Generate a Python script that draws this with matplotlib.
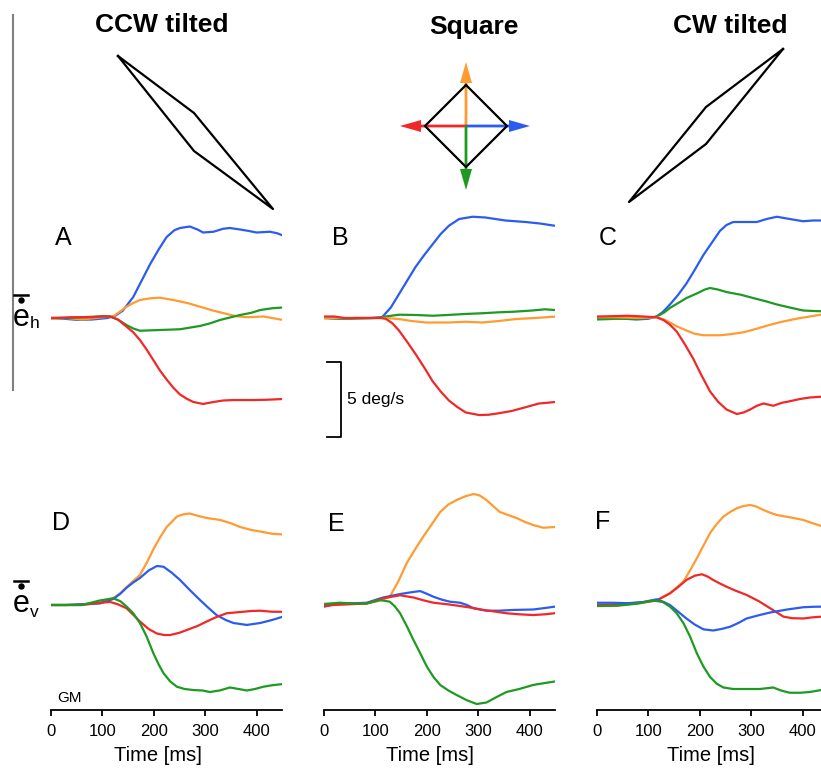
import matplotlib
matplotlib.use("Agg")
from matplotlib import pyplot as plt

plt.rcParams['font.family'] = ['Liberation Sans', 'DejaVu Sans']

# ---- data: (time [ms], eye velocity [deg/s]) ----
# row 1 = horizontal component, row 2 = vertical component
A_blue = [(0, 0.0), (25, -0.05), (50, -0.12), (80, -0.1), (110, 0.0), (125, 0.15), (140, 0.5), (160, 1.4),
          (175, 2.4), (193, 3.6), (210, 4.6), (225, 5.4), (240, 5.85), (251, 6.0), (270, 6.1), (285, 5.9),
          (296, 5.7), (316, 5.75), (335, 5.95), (348, 6.0), (368, 5.9), (385, 5.8), (400, 5.7), (426, 5.75),
          (440, 5.65), (451, 5.5)]
A_orange = [(0, -0.05), (30, 0.0), (60, -0.1), (100, 0.05), (121, 0.1), (135, 0.45), (147, 0.75), (160, 1.0),
            (173, 1.2), (195, 1.32), (212, 1.35), (238, 1.2), (265, 1.0), (290, 0.75), (315, 0.5), (342, 0.27),
            (360, 0.12), (381, 0.05), (400, 0.08), (413, 0.1), (430, 0.0), (451, -0.13)]
A_green = [(0, 0.0), (30, 0.0), (60, 0.05), (90, 0.1), (115, 0.1), (130, -0.1), (147, -0.47), (160, -0.7),
           (173, -0.85), (212, -0.8), (251, -0.75), (290, -0.53), (310, -0.35), (329, -0.13), (350, 0.05),
           (368, 0.2), (390, 0.35), (407, 0.53), (430, 0.65), (451, 0.7)]
A_red = [(0, 0.0), (40, 0.05), (80, 0.05), (100, 0.12), (115, 0.1), (130, -0.1), (147, -0.58), (160, -0.95),
         (173, -1.47), (186, -2.1), (199, -2.8), (212, -3.5), (225, -4.1), (238, -4.65), (251, -5.1), (265, -5.4),
         (277, -5.6), (296, -5.73), (316, -5.6), (335, -5.5), (355, -5.47), (394, -5.47), (420, -5.45), (451, -5.4)]

B_blue = [(0, 0.0), (30, -0.05), (60, 0.0), (90, 0.0), (113, 0.05), (130, 0.7), (146, 1.6), (162, 2.5),
          (178, 3.4), (195, 4.2), (211, 4.9), (227, 5.6), (243, 6.15), (263, 6.6), (289, 6.75), (314, 6.7),
          (353, 6.5), (392, 6.4), (420, 6.3), (449, 6.15)]
B_green = [(0, 0.0), (50, -0.05), (100, 0.0), (120, 0.1), (146, 0.22), (180, 0.2), (211, 0.15), (240, 0.2),
           (276, 0.27), (310, 0.32), (340, 0.38), (370, 0.42), (405, 0.5), (430, 0.58), (449, 0.53)]
B_orange = [(0, 0.0), (50, 0.0), (100, 0.0), (120, 0.0), (146, -0.07), (170, -0.2), (198, -0.3), (243, -0.3),
            (275, -0.25), (308, -0.3), (340, -0.2), (373, -0.07), (410, 0.0), (449, 0.09)]
B_red = [(0, 0.1), (20, 0.1), (40, 0.0), (80, 0.0), (110, 0.0), (120, -0.05), (133, -0.35), (146, -0.84),
         (162, -1.6), (178, -2.4), (195, -3.3), (211, -4.2), (227, -4.9), (243, -5.5), (260, -5.95), (276, -6.3),
         (302, -6.47), (320, -6.45), (340, -6.35), (365, -6.2), (392, -5.95), (418, -5.7), (435, -5.65), (449, -5.6)]

C_blue = [(0, 0.0), (30, 0.0), (77, -0.1), (100, -0.05), (116, 0.1), (128, 0.4), (142, 0.9), (158, 1.55),
          (174, 2.3), (190, 3.2), (207, 4.2), (223, 5.0), (239, 5.8), (252, 6.2), (265, 6.4), (290, 6.4),
          (311, 6.4), (330, 6.6), (350, 6.75), (375, 6.6), (401, 6.45), (420, 6.5), (436, 6.5)]
C_green = [(0, -0.1), (40, -0.05), (80, -0.05), (100, 0.0), (116, 0.1), (130, 0.35), (142, 0.67), (158, 1.0),
           (174, 1.33), (195, 1.65), (210, 1.9), (220, 2.0), (235, 1.9), (252, 1.73), (280, 1.55), (304, 1.33),
           (330, 1.1), (350, 0.9), (375, 0.7), (401, 0.5), (420, 0.47), (436, 0.45)]
C_orange = [(0, 0.05), (40, 0.05), (80, 0.0), (116, 0.05), (130, -0.1), (142, -0.3), (155, -0.55), (175, -0.85),
            (190, -1.05), (207, -1.15), (239, -1.15), (260, -1.08), (285, -0.95), (310, -0.72), (337, -0.45),
            (360, -0.25), (388, -0.05), (410, 0.08), (436, 0.22)]
C_red = [(0, 0.1), (30, 0.12), (60, 0.15), (90, 0.1), (116, 0.05), (130, -0.15), (142, -0.45), (155, -0.9),
         (170, -1.7), (187, -2.7), (203, -3.8), (220, -4.9), (236, -5.6), (252, -6.1), (272, -6.4), (285, -6.3),
         (298, -6.1), (311, -5.85), (324, -5.7), (343, -5.85), (360, -5.65), (375, -5.55), (395, -5.4),
         (414, -5.3), (436, -5.25)]

D_orange = [(0, 0.0), (30, 0.0), (60, 0.05), (95, 0.15), (121, 0.45), (135, 0.8), (147, 1.2), (160, 1.6),
            (173, 2.0), (186, 2.8), (199, 3.7), (212, 4.5), (225, 5.2), (245, 5.9), (258, 6.05), (270, 6.1),
            (285, 5.95), (303, 5.8), (329, 5.67), (350, 5.45), (368, 5.2), (390, 5.0), (407, 4.9), (430, 4.75),
            (451, 4.7)]
D_blue = [(0, 0.0), (30, 0.0), (60, 0.05), (95, 0.1), (121, 0.4), (135, 0.75), (147, 1.15), (160, 1.5),
          (173, 1.8), (190, 2.3), (206, 2.6), (219, 2.55), (235, 2.15), (251, 1.67), (270, 1.0), (290, 0.33),
          (305, -0.15), (322, -0.67), (340, -1.0), (355, -1.2), (381, -1.33), (407, -1.2), (430, -1.0), (451, -0.78)]
D_red = [(0, 0.0), (30, 0.0), (60, 0.0), (95, 0.15), (115, 0.2), (130, 0.05), (147, -0.22), (160, -0.65),
         (173, -1.1), (190, -1.6), (206, -1.9), (220, -2.0), (232, -2.0), (250, -1.85), (264, -1.67), (285, -1.4),
         (303, -1.1), (322, -0.8), (342, -0.55), (374, -0.45), (390, -0.4), (407, -0.38), (430, -0.45), (451, -0.45)]
D_green = [(0, 0.0), (30, 0.0), (60, 0.0), (95, 0.3), (121, 0.45), (135, 0.25), (147, -0.1), (160, -0.55),
           (173, -1.2), (186, -2.1), (199, -3.2), (210, -4.0), (219, -4.55), (232, -5.1), (245, -5.45), (260, -5.6),
           (277, -5.67), (295, -5.7), (309, -5.8), (328, -5.7), (348, -5.5), (365, -5.6), (381, -5.7), (397, -5.6),
           (413, -5.45), (430, -5.35), (451, -5.27)]

E_orange = [(0, -0.05), (18, 0.07), (50, 0.1), (83, 0.1), (110, 0.3), (128, 0.55), (145, 1.6), (161, 2.8),
            (177, 3.7), (193, 4.55), (210, 5.4), (226, 6.2), (242, 6.7), (258, 7.0), (275, 7.25), (291, 7.4),
            (303, 7.3), (316, 7.0), (329, 6.6), (342, 6.2), (358, 6.0), (375, 5.8), (390, 5.55), (407, 5.33),
            (427, 5.15), (449, 5.2)]
E_blue = [(0, -0.1), (18, 0.07), (51, 0.1), (83, 0.15), (115, 0.5), (148, 0.73), (170, 0.85), (187, 0.93),
          (200, 0.75), (213, 0.55), (230, 0.35), (245, 0.22), (265, 0.15), (278, 0.0), (291, -0.22), (316, -0.38),
          (340, -0.38), (368, -0.33), (407, -0.3), (430, -0.2), (449, -0.11)]
E_red = [(0, -0.1), (18, 0.0), (51, 0.05), (83, 0.1), (115, 0.45), (148, 0.65), (174, 0.5), (195, 0.3),
         (213, 0.15), (240, 0.05), (265, -0.07), (290, -0.2), (310, -0.33), (335, -0.45), (355, -0.55),
         (380, -0.62), (407, -0.67), (430, -0.62), (449, -0.55)]
E_green = [(0, 0.07), (31, 0.15), (60, 0.1), (83, 0.1), (109, 0.33), (128, 0.22), (138, -0.1), (148, -0.55),
           (161, -1.4), (174, -2.33), (187, -3.2), (200, -4.1), (213, -4.8), (226, -5.33), (242, -5.7), (258, -6.0),
           (278, -6.35), (297, -6.6), (316, -6.5), (335, -6.15), (355, -5.8), (380, -5.6), (407, -5.33),
           (430, -5.2), (449, -5.1)]

F_orange = [(0, -0.05), (45, 0.0), (80, 0.1), (116, 0.3), (142, 0.78), (168, 1.55), (181, 2.3), (194, 3.1),
            (207, 3.95), (220, 4.8), (233, 5.4), (246, 5.9), (259, 6.2), (272, 6.45), (285, 6.6), (298, 6.67),
            (311, 6.55), (324, 6.33), (337, 6.15), (350, 6.0), (375, 5.85), (401, 5.67), (420, 5.45), (436, 5.27)]
F_red = [(0, 0.0), (45, 0.05), (80, 0.15), (116, 0.3), (142, 0.78), (158, 1.2), (174, 1.67), (190, 1.95),
         (204, 2.05), (215, 1.9), (226, 1.67), (240, 1.42), (252, 1.22), (270, 0.95), (291, 0.67), (315, 0.25),
         (337, -0.22), (350, -0.5), (363, -0.78), (380, -0.88), (401, -0.9), (420, -0.82), (436, -0.78)]
F_blue = [(0, 0.15), (30, 0.15), (60, 0.12), (90, 0.2), (116, 0.38), (130, 0.2), (142, 0.0), (158, -0.45),
          (174, -0.9), (190, -1.3), (207, -1.62), (226, -1.7), (242, -1.6), (259, -1.45), (275, -1.2), (291, -0.9),
          (315, -0.68), (337, -0.5), (370, -0.3), (401, -0.15), (420, -0.12), (436, -0.11)]
F_green = [(0, -0.07), (40, -0.05), (80, 0.1), (110, 0.3), (128, 0.2), (142, -0.11), (155, -0.55), (168, -1.2),
           (181, -2.1), (194, -3.2), (207, -4.1), (220, -4.8), (233, -5.25), (246, -5.5), (265, -5.6), (285, -5.6),
           (317, -5.6), (330, -5.55), (343, -5.5), (358, -5.7), (375, -5.85), (395, -5.85), (414, -5.8), (436, -5.67)]

panel_letters = ['A', 'B', 'C', 'D', 'E', 'F']
column_titles = ['CCW tilted', 'Square', 'CW tilted']
time_ticks = [0, 100, 200, 300, 400]
scale_bar = 5  # deg/s

# pattern outlines (figure pixels)
ccw_shape = [(118, 56), (194, 113), (273, 209), (194, 151), (118, 56)]
cw_shape = [(783, 49), (706, 107), (629, 202), (706, 144), (783, 49)]
square_shape = [(466, 85), (507, 126), (466, 167), (425, 126), (466, 85)]

col_blue = '#2a5cf0'
col_red = '#f02828'
col_orange = '#ff9b30'
col_green = '#1e9a22'

W, H = 821, 769
fig = plt.figure(figsize=(W / 100, H / 100), dpi=100)

# overlay in pixel units for the drawings and free text
ov = fig.add_axes([0, 0, 1, 1])
ov.set_xlim(0, W)
ov.set_ylim(H, 0)
ov.axis('off')

px_per_ms = 0.514
px_per_unit = 15.0
col_x0 = [51, 324, 597]
row_base = [318, 605]
row_ylim = [(-7.5, 7.5), (-7.0, 7.5)]
label_x = [0.463, 0.459, 0.494]

traces = [
    [A_blue, A_orange, A_green, A_red],
    [B_blue, B_green, B_orange, B_red],
    [C_blue, C_green, C_orange, C_red],
    [D_orange, D_blue, D_red, D_green],
    [E_orange, E_blue, E_red, E_green],
    [F_orange, F_red, F_blue, F_green],
]
trace_cols = [
    [col_blue, col_orange, col_green, col_red],
    [col_blue, col_green, col_orange, col_red],
    [col_blue, col_green, col_orange, col_red],
    [col_orange, col_blue, col_red, col_green],
    [col_orange, col_blue, col_red, col_green],
    [col_orange, col_red, col_blue, col_green],
]

axes = []
for r in range(2):
    lo, hi = row_ylim[r]
    for c in range(3):
        x0 = col_x0[c]
        bottom_px = row_base[r] - lo * px_per_unit
        height_px = (hi - lo) * px_per_unit
        width_px = 450 * px_per_ms
        ax = fig.add_axes([x0 / W, 1 - bottom_px / H, width_px / W, height_px / H])
        ax.set_xlim(0, 450)
        ax.set_ylim(lo, hi)
        ax.patch.set_alpha(0)
        for s in ['top', 'right', 'left']:
            ax.spines[s].set_visible(False)
        ax.set_yticks([])
        if r == 0:
            ax.spines['bottom'].set_visible(False)
            ax.set_xticks([])
        else:
            ax.spines['bottom'].set_linewidth(1.3)
            ax.set_xticks(time_ticks)
            ax.tick_params(axis='x', direction='out', length=4, width=1.3, pad=6, labelsize=12)
            ax.set_xlabel('Time [ms]', fontsize=14.5)
            ax.xaxis.set_label_coords(label_x[c], -0.165)
            ax.xaxis.label.set_va('top')
        i = r * 3 + c
        for tr, colr in zip(traces[i], trace_cols[i]):
            ts = [p[0] for p in tr]
            vs = [p[1] for p in tr]
            ax.plot(ts, vs, color=colr, lw=1.6, solid_capstyle='round', solid_joinstyle='round')
        axes.append(ax)

# panel letters
letter_pos = [(55, 238), (332, 238), (599, 238), (52, 523), (328, 524), (595, 522)]
for (lx, ly), lab in zip(letter_pos, panel_letters):
    ov.text(lx, ly, lab, fontsize=18, ha='left', va='center')

# column titles
title_pos = [(162, 25), (474, 27), (730, 26)]
for (tx, ty), t in zip(title_pos, column_titles):
    ov.text(tx, ty, t, fontsize=19, fontweight='bold', ha='center', va='center')

# pattern drawings
for shp in [ccw_shape, cw_shape, square_shape]:
    ov.plot([p[0] for p in shp], [p[1] for p in shp], color='black', lw=1.6)

cx, cy = 466, 126
arrows = [(0, -64, col_orange), (-66, 0, col_red), (64, 0, col_blue), (0, 64, col_green)]
for dx, dy, ac in arrows:
    ov.arrow(cx, cy, dx, dy, width=2.8, head_width=12, head_length=21,
             length_includes_head=True, color=ac, lw=0)

# gray vertical line at the left
ov.plot([13, 13], [15, 390], color='#808080', lw=1.5)

# y labels: e with dot and bar, subscript
for base, sub, drop in [(326, 'h', 2), (612, 'v', 5)]:
    ov.text(12.5, base, 'e', fontsize=22, ha='left', va='baseline')
    ov.text(29.5, base + drop, sub, fontsize=12.5, ha='left', va='baseline')
    ov.plot([20.5], [base - 26], 'o', ms=3.6, color='black')
    ov.plot([13.5, 27.5], [base - 31, base - 31], color='black', lw=1.8)

# scale bar in panel B (data units)
axB = axes[1]
bar_top = -2.93
bar_bot = bar_top - scale_bar
axB.plot([6, 33, 33, 6], [bar_top, bar_top, bar_bot, bar_bot], color='black', lw=1.3, clip_on=False)
axB.text(45, (bar_top + bar_bot) / 2, '%d deg/s' % scale_bar, fontsize=12.5, ha='left', va='center')

# GM label
ov.text(57, 698, 'GM', fontsize=11, ha='left', va='center')

fig.savefig('out.png', dpi=100)
